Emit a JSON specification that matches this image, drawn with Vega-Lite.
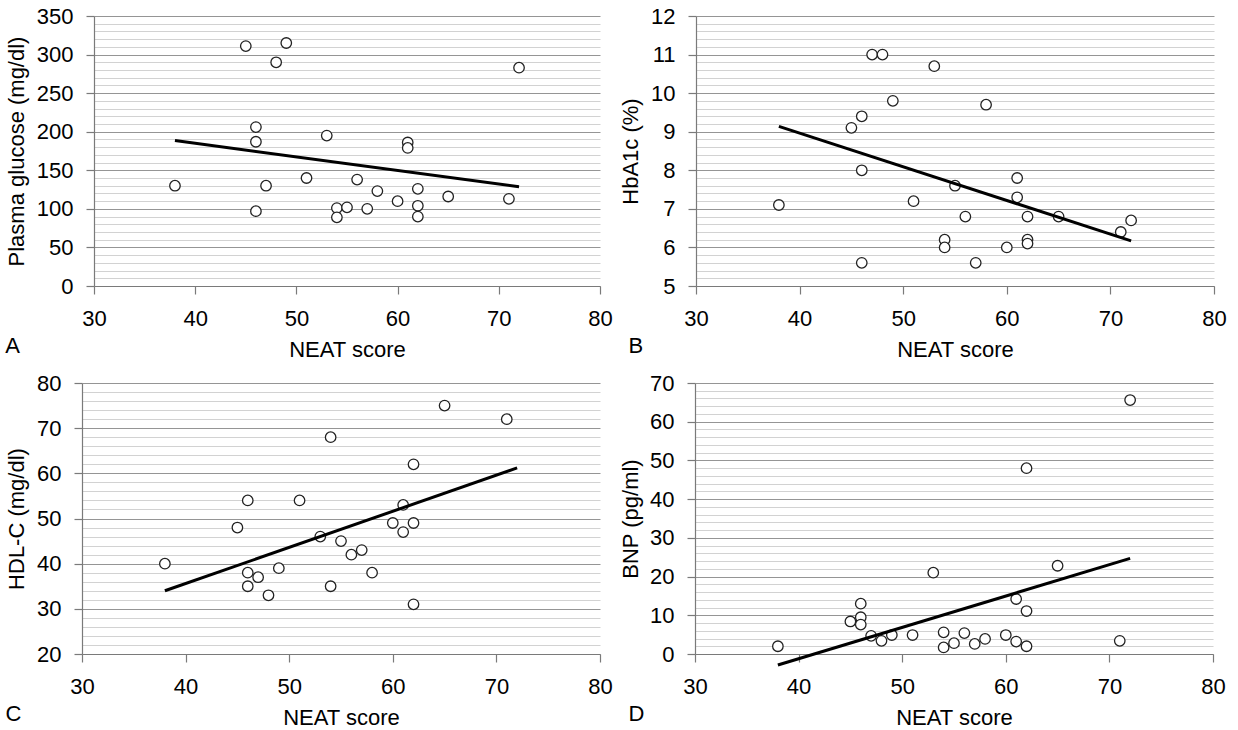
{
  "$schema": "https://vega.github.io/schema/vega-lite/v6.json",
  "padding": {"left": 5, "top": 5, "right": 5, "bottom": 5},
  "background": "white",
  "spacing": 12,
  "config": {
    "font": "Liberation Sans",
    "view": {"stroke": null},
    "concat": {"spacing": 6},
    "axis": {
      "labelFont": "Liberation Sans", "titleFont": "Liberation Sans",
      "labelFontSize": 22, "titleFontSize": 22, "titleFontWeight": "normal",
      "labelColor": "#000", "titleColor": "#000",
      "domainColor": "#7a7a7a", "tickColor": "#7a7a7a", "tickSize": 8, "domainWidth": 1.2, "tickWidth": 1.2,
      "labelOverlap": false, "labelFlush": false
    },
    "axisX": {"grid": false, "labelPadding": 14, "titlePadding": 10},
    "axisY": {"labelPadding": 13, "titlePadding": 8, "gridWidth": 1.2},
    "title": {"font": "Liberation Sans", "fontSize": 22, "fontWeight": "normal", "color": "#000", "orient": "bottom", "anchor": "start", "frame": "bounds", "offset": -24}
  },
  "vconcat": [
    {
      "hconcat": [
        {
          "title": "A",
          "width": 518, "height": 270,
          "encoding": {
            "x": {"field": "NEAT", "type": "quantitative", "scale": {"domain": [30, 80], "nice": false, "range": [12, 518]}, "title": "NEAT score", "axis": {"values": [30, 40, 50, 60, 70, 80]}},
            "y": {"field": "value", "type": "quantitative", "scale": {"domain": [0, 350], "nice": false}, "title": "Plasma glucose (mg/dl)",
              "axis": {
                "offset": -12,
                "values": [0,10,20,30,40,50,60,70,80,90,100,110,120,130,140,150,160,170,180,190,200,210,220,230,240,250,260,270,280,290,300,310,320,330,340,350],
                "gridColor": {"condition": {"test": "datum.value % 50 === 0", "value": "#959595"}, "value": "#d2d2d2"},
                "tickOpacity": {"condition": {"test": "datum.value % 50 === 0", "value": 1}, "value": 0},
                "labelExpr": "datum.value % 50 === 0 ? datum.label : ''"
              }}
          },
          "layer": [
            {
              "data": {"values": [
                {"NEAT": 38, "value": 130}, {"NEAT": 45, "value": 311}, {"NEAT": 49, "value": 315}, {"NEAT": 48, "value": 290},
                {"NEAT": 46, "value": 206}, {"NEAT": 46, "value": 187}, {"NEAT": 47, "value": 130}, {"NEAT": 46, "value": 97},
                {"NEAT": 51, "value": 140}, {"NEAT": 53, "value": 195}, {"NEAT": 72, "value": 283}, {"NEAT": 61, "value": 186},
                {"NEAT": 61, "value": 179}, {"NEAT": 56, "value": 138}, {"NEAT": 58, "value": 123}, {"NEAT": 54, "value": 101},
                {"NEAT": 55, "value": 102}, {"NEAT": 54, "value": 89}, {"NEAT": 57, "value": 100}, {"NEAT": 60, "value": 110},
                {"NEAT": 62, "value": 126}, {"NEAT": 62, "value": 104}, {"NEAT": 62, "value": 90}, {"NEAT": 65, "value": 116},
                {"NEAT": 71, "value": 113}
              ]},
              "mark": {"type": "point", "shape": "circle", "filled": false, "fill": "white", "fillOpacity": 1, "stroke": "#222", "strokeWidth": 1.3, "size": 110, "opacity": 1}
            },
            {
              "data": {"values": [{"NEAT": 38, "value": 188.6}, {"NEAT": 72, "value": 128.6}]},
              "mark": {"type": "line", "color": "#000", "strokeWidth": 3}
            }
          ]
        },
        {
          "title": {"text": "B", "dx": 9},
          "width": 518, "height": 270,
          "encoding": {
            "x": {"field": "NEAT", "type": "quantitative", "scale": {"domain": [30, 80], "nice": false}, "title": "NEAT score", "axis": {"values": [30, 40, 50, 60, 70, 80]}},
            "y": {"field": "value", "type": "quantitative", "scale": {"domain": [5, 12], "nice": false}, "title": "HbA1c (%)",
              "axis": {
                "values": [5,5.2,5.4,5.6,5.8,6,6.2,6.4,6.6,6.8,7,7.2,7.4,7.6,7.8,8,8.2,8.4,8.6,8.8,9,9.2,9.4,9.6,9.8,10,10.2,10.4,10.6,10.8,11,11.2,11.4,11.6,11.8,12],
                "gridColor": {"condition": {"test": "abs(datum.value - round(datum.value)) < 0.001", "value": "#959595"}, "value": "#d2d2d2"},
                "tickOpacity": {"condition": {"test": "abs(datum.value - round(datum.value)) < 0.001", "value": 1}, "value": 0},
                "labelExpr": "abs(datum.value - round(datum.value)) < 0.001 ? format(datum.value, 'd') : ''"
              }}
          },
          "layer": [
            {
              "data": {"values": [
                {"NEAT": 38, "value": 7.1}, {"NEAT": 47, "value": 11.0}, {"NEAT": 48, "value": 11.0}, {"NEAT": 53, "value": 10.7},
                {"NEAT": 49, "value": 9.8}, {"NEAT": 46, "value": 9.4}, {"NEAT": 45, "value": 9.1}, {"NEAT": 46, "value": 8.0},
                {"NEAT": 51, "value": 7.2}, {"NEAT": 46, "value": 5.6}, {"NEAT": 58, "value": 9.7}, {"NEAT": 55, "value": 7.6},
                {"NEAT": 61, "value": 7.8}, {"NEAT": 61, "value": 7.3}, {"NEAT": 56, "value": 6.8}, {"NEAT": 62, "value": 6.8},
                {"NEAT": 65, "value": 6.8}, {"NEAT": 54, "value": 6.2}, {"NEAT": 54, "value": 6.0}, {"NEAT": 60, "value": 6.0},
                {"NEAT": 62, "value": 6.2}, {"NEAT": 62, "value": 6.1}, {"NEAT": 57, "value": 5.6}, {"NEAT": 71, "value": 6.4},
                {"NEAT": 72, "value": 6.7}
              ]},
              "mark": {"type": "point", "shape": "circle", "filled": false, "fill": "white", "fillOpacity": 1, "stroke": "#222", "strokeWidth": 1.3, "size": 110, "opacity": 1}
            },
            {
              "data": {"values": [{"NEAT": 38, "value": 9.14}, {"NEAT": 72, "value": 6.17}]},
              "mark": {"type": "line", "color": "#000", "strokeWidth": 3}
            }
          ]
        }
      ]
    },
    {
      "hconcat": [
        {
          "title": "C",
          "width": 518, "height": 271,
          "encoding": {
            "x": {"field": "NEAT", "type": "quantitative", "scale": {"domain": [30, 80], "nice": false}, "title": "NEAT score", "axis": {"values": [30, 40, 50, 60, 70, 80]}},
            "y": {"field": "value", "type": "quantitative", "scale": {"domain": [20, 80], "nice": false}, "title": "HDL-C (mg/dl)",
              "axis": {
                "values": [20,22,24,26,28,30,32,34,36,38,40,42,44,46,48,50,52,54,56,58,60,62,64,66,68,70,72,74,76,78,80],
                "gridColor": {"condition": {"test": "datum.value % 10 === 0", "value": "#959595"}, "value": "#d2d2d2"},
                "tickOpacity": {"condition": {"test": "datum.value % 10 === 0", "value": 1}, "value": 0},
                "labelExpr": "datum.value % 10 === 0 ? datum.label : ''"
              }}
          },
          "layer": [
            {
              "data": {"values": [
                {"NEAT": 38, "value": 40}, {"NEAT": 46, "value": 54}, {"NEAT": 45, "value": 48}, {"NEAT": 51, "value": 54},
                {"NEAT": 46, "value": 38}, {"NEAT": 47, "value": 37}, {"NEAT": 46, "value": 35}, {"NEAT": 48, "value": 33},
                {"NEAT": 49, "value": 39}, {"NEAT": 53, "value": 46}, {"NEAT": 65, "value": 75}, {"NEAT": 71, "value": 72},
                {"NEAT": 54, "value": 68}, {"NEAT": 62, "value": 62}, {"NEAT": 55, "value": 45}, {"NEAT": 57, "value": 43},
                {"NEAT": 56, "value": 42}, {"NEAT": 58, "value": 38}, {"NEAT": 54, "value": 35}, {"NEAT": 62, "value": 31},
                {"NEAT": 61, "value": 53}, {"NEAT": 60, "value": 49}, {"NEAT": 62, "value": 49}, {"NEAT": 61, "value": 47}
              ]},
              "mark": {"type": "point", "shape": "circle", "filled": false, "fill": "white", "fillOpacity": 1, "stroke": "#222", "strokeWidth": 1.3, "size": 110, "opacity": 1}
            },
            {
              "data": {"values": [{"NEAT": 38, "value": 34.0}, {"NEAT": 72, "value": 61.2}]},
              "mark": {"type": "line", "color": "#000", "strokeWidth": 3}
            }
          ]
        },
        {
          "title": {"text": "D", "dx": 9},
          "width": 518, "height": 271,
          "encoding": {
            "x": {"field": "NEAT", "type": "quantitative", "scale": {"domain": [30, 80], "nice": false}, "title": "NEAT score", "axis": {"values": [30, 40, 50, 60, 70, 80]}},
            "y": {"field": "value", "type": "quantitative", "scale": {"domain": [0, 70], "nice": false}, "title": "BNP (pg/ml)",
              "axis": {
                "titlePadding": 7,
                "values": [0,2,4,6,8,10,12,14,16,18,20,22,24,26,28,30,32,34,36,38,40,42,44,46,48,50,52,54,56,58,60,62,64,66,68,70],
                "gridColor": {"condition": {"test": "datum.value % 10 === 0", "value": "#959595"}, "value": "#d2d2d2"},
                "tickOpacity": {"condition": {"test": "datum.value % 10 === 0", "value": 1}, "value": 0},
                "labelExpr": "datum.value % 10 === 0 ? datum.label : ''"
              }}
          },
          "layer": [
            {
              "data": {"values": [
                {"NEAT": 38, "value": 2.0}, {"NEAT": 46, "value": 13.0}, {"NEAT": 46, "value": 9.5}, {"NEAT": 46, "value": 7.6},
                {"NEAT": 45, "value": 8.4}, {"NEAT": 47, "value": 4.7}, {"NEAT": 48, "value": 3.4}, {"NEAT": 49, "value": 4.9},
                {"NEAT": 51, "value": 4.9}, {"NEAT": 53, "value": 21.0}, {"NEAT": 72, "value": 65.6}, {"NEAT": 62, "value": 48.0},
                {"NEAT": 65, "value": 22.8}, {"NEAT": 61, "value": 14.2}, {"NEAT": 62, "value": 11.1}, {"NEAT": 54, "value": 5.6},
                {"NEAT": 54, "value": 1.7}, {"NEAT": 55, "value": 2.8}, {"NEAT": 56, "value": 5.4}, {"NEAT": 57, "value": 2.6},
                {"NEAT": 58, "value": 3.9}, {"NEAT": 60, "value": 4.9}, {"NEAT": 61, "value": 3.2}, {"NEAT": 62, "value": 2.0},
                {"NEAT": 71, "value": 3.4}
              ]},
              "mark": {"type": "point", "shape": "circle", "filled": false, "fill": "white", "fillOpacity": 1, "stroke": "#222", "strokeWidth": 1.3, "size": 110, "opacity": 1}
            },
            {
              "data": {"values": [{"NEAT": 38, "value": -2.84}, {"NEAT": 72, "value": 24.7}]},
              "mark": {"type": "line", "color": "#000", "strokeWidth": 3}
            }
          ]
        }
      ]
    }
  ]
}
